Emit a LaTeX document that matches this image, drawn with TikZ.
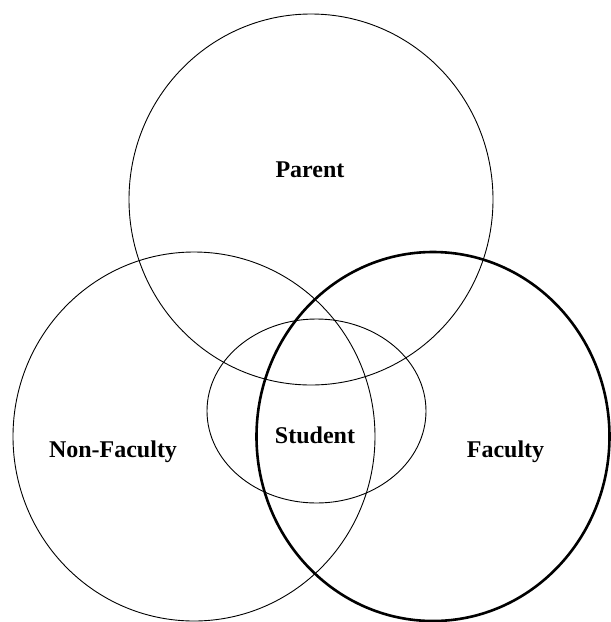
\documentclass[tikz,border=0pt]{standalone}
\usepackage{fontspec}
\setmainfont{Liberation Serif}
\begin{document}
\begin{tikzpicture}[x=1pt,y=-1pt,
  thincirc/.style={line width=0.9pt},
  thickcirc/.style={line width=2.6pt},
  lbl/.style={font=\fontsize{24}{28}\selectfont\bfseries, anchor=base, inner sep=0pt}]
\useasboundingbox (0,0) rectangle (611,622);
% Parent
\draw[thincirc] (311,199.5) ellipse [x radius=182, y radius=185.5];
% Non-Faculty
\draw[thincirc] (194,436.5) ellipse [x radius=181, y radius=184.5];
% Student
\draw[thincirc] (316.5,411) ellipse [x radius=109.5, y radius=92];
% Faculty
\draw[thickcirc] (433,436.5) ellipse [x radius=176.5, y radius=184.5];
\node[lbl] (parent) at (310,177.5) {Parent};
\node[lbl] (nonfac) at (113,457.5) {Non-Faculty};
\node[lbl] (student) at (315,443.5) {Student};
\node[lbl] (faculty) at (505.5,457.5) {Faculty};
\end{tikzpicture}
\end{document}
